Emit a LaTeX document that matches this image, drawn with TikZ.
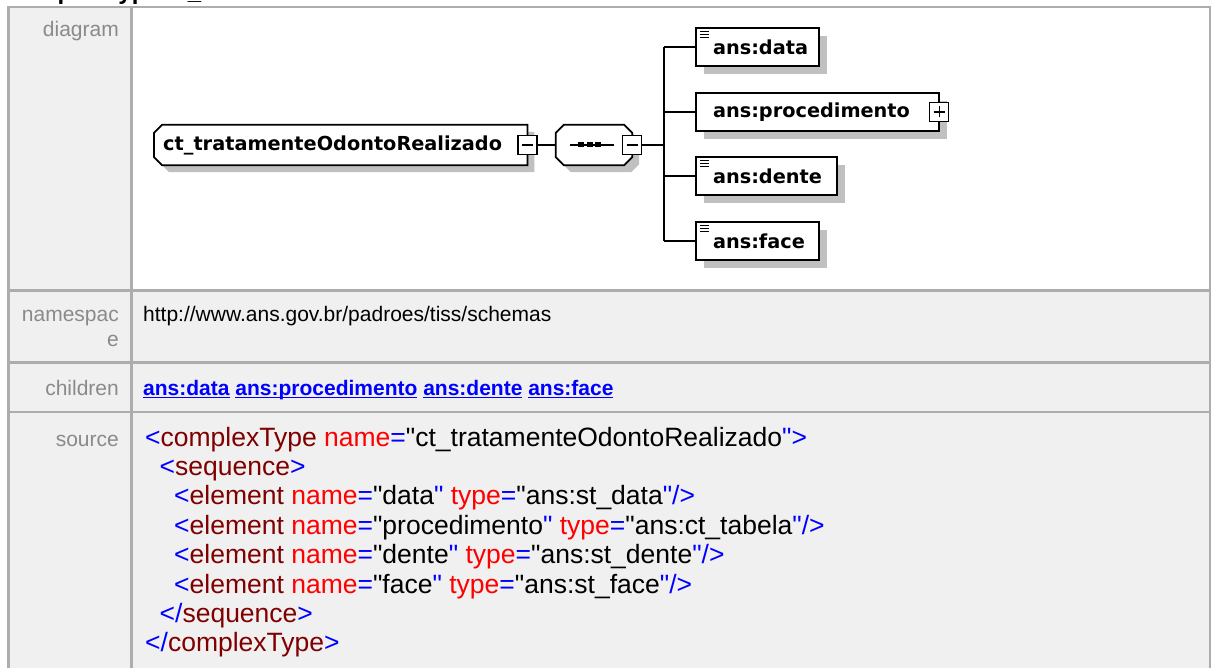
\documentclass[tikz,border=0pt]{standalone}
\usepackage{fontspec}
\setmainfont{Liberation Sans}
\newfontfamily\dgf{DejaVu Sans}
\usetikzlibrary{calc}
\pgfdeclarelayer{tbl}
\pgfdeclarelayer{shp}
\pgfsetlayers{tbl,shp,main}
\definecolor{xblue}{HTML}{0000FF}
\definecolor{xdred}{HTML}{800000}
\definecolor{xred}{HTML}{FF0000}
\definecolor{lblgray}{HTML}{8A8A8A}
\definecolor{cellbg}{HTML}{F0F0F0}
\definecolor{gridgray}{HTML}{ADADAD}
\definecolor{shadowgray}{HTML}{C0C0C0}
\definecolor{linkblue}{HTML}{0000FF}
\newcommand\dgfont{\dgf\bfseries\fontsize{19.3}{22}\selectfont}
\newcommand\lblfont{\fontsize{21}{24.5}\selectfont}
\newcommand\codefont{\fontsize{26.5}{29.4}\selectfont}
\newcommand\hdrfont{\bfseries\fontsize{24}{28}\selectfont}
\newcommand\qq{\textquotedbl}
\newcommand\tB[1]{\textcolor{xblue}{#1}}
\newcommand\tE[1]{\textcolor{xdred}{#1}}
\newcommand\tA[1]{\textcolor{xred}{#1}}
\newsavebox\lnkbox
\newcommand\lnk[1]{\sbox\lnkbox{#1}\rlap{\rule[-3pt]{\wd\lnkbox}{1.3pt}}\usebox\lnkbox}
\newcommand\chamLeft[1]{%
 \fill[shadowgray] ([shift={(15pt,-7pt)}]#1.north west) -- ([shift={(7pt,-7pt)}]#1.north east) -- ([shift={(7pt,-7pt)}]#1.south east) -- ([shift={(15pt,-7pt)}]#1.south west) -- ([shift={(7pt,1pt)}]#1.south west) -- ([shift={(7pt,-15pt)}]#1.north west) -- cycle;
 \draw[boxline] ([xshift=8pt]#1.north west) -- (#1.north east) -- (#1.south east) -- ([xshift=8pt]#1.south west) -- ([yshift=8pt]#1.south west) -- ([yshift=-8pt]#1.north west) -- cycle;}
\newcommand\chamBoth[1]{%
 \fill[shadowgray] ([shift={(15pt,-7pt)}]#1.north west) -- ([shift={(-1pt,-7pt)}]#1.north east) -- ([shift={(7pt,-15pt)}]#1.north east) -- ([shift={(7pt,1pt)}]#1.south east) -- ([shift={(-1pt,-7pt)}]#1.south east) -- ([shift={(15pt,-7pt)}]#1.south west) -- ([shift={(7pt,1pt)}]#1.south west) -- ([shift={(7pt,-15pt)}]#1.north west) -- cycle;
 \draw[boxline] ([xshift=8pt]#1.north west) -- ([xshift=-8pt]#1.north east) -- ([yshift=-8pt]#1.north east) -- ([yshift=8pt]#1.south east) -- ([xshift=-8pt]#1.south east) -- ([xshift=8pt]#1.south west) -- ([yshift=8pt]#1.south west) -- ([yshift=-8pt]#1.north west) -- cycle;}
\newcommand\plainBox[1]{%
 \fill[shadowgray] ([shift={(8pt,-8pt)}]#1.north west) rectangle ([shift={(8pt,-8pt)}]#1.south east);
 \draw[boxline] (#1.north west) rectangle (#1.south east);}
\newcommand\simpleIcon[1]{%
 \draw[line width=1pt] ([shift={(4pt,-4pt)}]#1.north west) -- ++(9pt,0pt);
 \draw[line width=1pt] ([shift={(4pt,-7pt)}]#1.north west) -- ++(9pt,0pt);
 \draw[line width=1pt] ([shift={(4pt,-10pt)}]#1.north west) -- ++(9pt,0pt);}
\tikzset{
 txt/.style={inner sep=0pt},
 lbl/.style={txt, anchor=base east, font=\lblfont, text=lblgray},
 code/.style={txt, anchor=base west, font=\codefont},
 boxline/.style={draw=black, line width=1.7pt, fill=white},
 grid/.style={draw=gridgray, line width=2.5pt},
 sqbox/.style={draw=black, fill=white, line width=1.4pt, minimum size=19pt, inner sep=0pt},
 conn/.style={draw=black, line width=1.6pt},
 child/.style={inner xsep=0pt, inner ysep=0pt, minimum height=38pt, align=left, font=\dgfont},
 dotbox/.style={fill=black, minimum width=6pt, minimum height=5pt, inner sep=0pt},
}
\begin{document}
\begin{tikzpicture}[x=1pt, y=-1pt]
\useasboundingbox (0,0) rectangle (1214,668);
% ---------- table ----------
\begin{pgfonlayer}{tbl}
\fill[white] (0,0) rectangle (1214,668);
\fill[cellbg] (8,7) rectangle (1211,668);
\fill[white] (132,8) rectangle (1209,290);
\draw[grid] (8.5,6) -- (8.5,668);
\draw[grid] (1210,6) -- (1210,668);
\draw[grid] (7.5,7) -- (1211,7);
\draw[grid] (131.5,7) -- (131.5,668);
\draw[grid] (8,290.5) -- (1210,290.5);
\draw[grid] (8,362.5) -- (1210,362.5);
\draw[grid] (8,412) -- (1210,412);
\end{pgfonlayer}
\node[txt, anchor=base west, font=\hdrfont] (title) at (8,-0.5) {complexType ct\_tratamenteOdontoRealizado};
% labels
\node[lbl] (ldiag) at (119,37) {diagram};
\node[lbl] (lns1) at (119,321) {namespac};
\node[lbl] (lns2) at (119,346) {e};
\node[lbl] (lchild) at (119,395) {children};
\node[lbl] (lsrc) at (119,446) {source};
% values
\node[txt, anchor=base west, font=\lblfont] (nsval) at (143,321) {http://www.ans.gov.br/padroes/tiss/schemas};
\node[txt, anchor=base west, font=\lblfont\bfseries, text=linkblue] (chval) at (143,395) {\lnk{ans:data} \lnk{ans:procedimento} \lnk{ans:dente} \lnk{ans:face}};
\node[code] (c1) at (145,446) {\tB{<}\tE{complexType} \tA{name}\tB{=}\qq ct\_tratamenteOdontoRealizado\tB{\qq>}};
\node[code] (c2) at (159.5,475.4) {\tB{<}\tE{sequence}\tB{>}};
\node[code] (c3) at (174,504.8) {\tB{<}\tE{element} \tA{name}\tB{=}\qq data\tB{\qq} \tA{type}\tB{=}\qq ans:st\_data\tB{\qq/>}};
\node[code] (c4) at (174,534.2) {\tB{<}\tE{element} \tA{name}\tB{=}\qq procedimento\tB{\qq} \tA{type}\tB{=}\qq ans:ct\_tabela\tB{\qq/>}};
\node[code] (c5) at (174,563.6) {\tB{<}\tE{element} \tA{name}\tB{=}\qq dente\tB{\qq} \tA{type}\tB{=}\qq ans:st\_dente\tB{\qq/>}};
\node[code] (c6) at (174,593) {\tB{<}\tE{element} \tA{name}\tB{=}\qq face\tB{\qq} \tA{type}\tB{=}\qq ans:st\_face\tB{\qq/>}};
\node[code] (c7) at (159.5,622.4) {\tB{</}\tE{sequence}\tB{>}};
\node[code] (c8) at (145,651.8) {\tB{</}\tE{complexType}\tB{>}};
% ---------- diagram ----------
\node[inner xsep=0pt, inner ysep=0pt, minimum height=40pt, text width=373pt, align=left, anchor=west, font=\dgfont] (root) at (154,145) {\hspace*{9pt}ct\_tratamenteOdontoRealizado};
\node[inner sep=0pt, minimum width=76pt, minimum height=40pt] (seq) at (594,145) {};
\node[child, text width=123pt] (data) at (757.5,47) {\hspace*{17pt}ans:data};
\node[child, text width=243pt] (proc) at (817.5,112) {\hspace*{17pt}ans:procedimento};
\node[child, text width=141pt] (dente) at (766.5,176) {\hspace*{17pt}ans:dente};
\node[child, text width=123pt] (face) at (757.5,241) {\hspace*{17pt}ans:face};
\begin{pgfonlayer}{shp}
\chamLeft{root}
\chamBoth{seq}
\plainBox{data}
\plainBox{proc}
\plainBox{dente}
\plainBox{face}
\end{pgfonlayer}
\simpleIcon{data}
\simpleIcon{dente}
\simpleIcon{face}
% sequence glyph
\draw[line width=1.6pt] ([xshift=14pt]seq.west) -- ([xshift=-18pt]seq.east);
\node[dotbox] (d1) at (581,145) {};
\node[dotbox] (d2) at (589.5,145) {};
\node[dotbox] (d3) at (598,145) {};
% expand squares
\node[sqbox] (rootm) at (root.east) {};
\draw[line width=1.4pt] ([xshift=-5.5pt]rootm.center) -- ([xshift=5.5pt]rootm.center);
\node[sqbox] (seqm) at (seq.east) {};
\draw[line width=1.4pt] ([xshift=-5.5pt]seqm.center) -- ([xshift=5.5pt]seqm.center);
\node[sqbox] (procm) at (proc.east) {};
\draw[line width=1.4pt] ([xshift=-5.5pt]procm.center) -- ([xshift=5.5pt]procm.center);
\draw[line width=1.4pt] ([yshift=-5.5pt]procm.center) -- ([yshift=5.5pt]procm.center);
% connectors
\coordinate (bus) at (664,145);
\draw[conn] (rootm.east) -- (seq.west);
\draw[conn] (seqm.east) -- (bus);
\draw[conn] (bus |- data.west) -- (bus |- face.west);
\foreach \c in {data,proc,dente,face} \draw[conn] (bus |- \c.west) -- (\c.west);
\end{tikzpicture}
\end{document}
